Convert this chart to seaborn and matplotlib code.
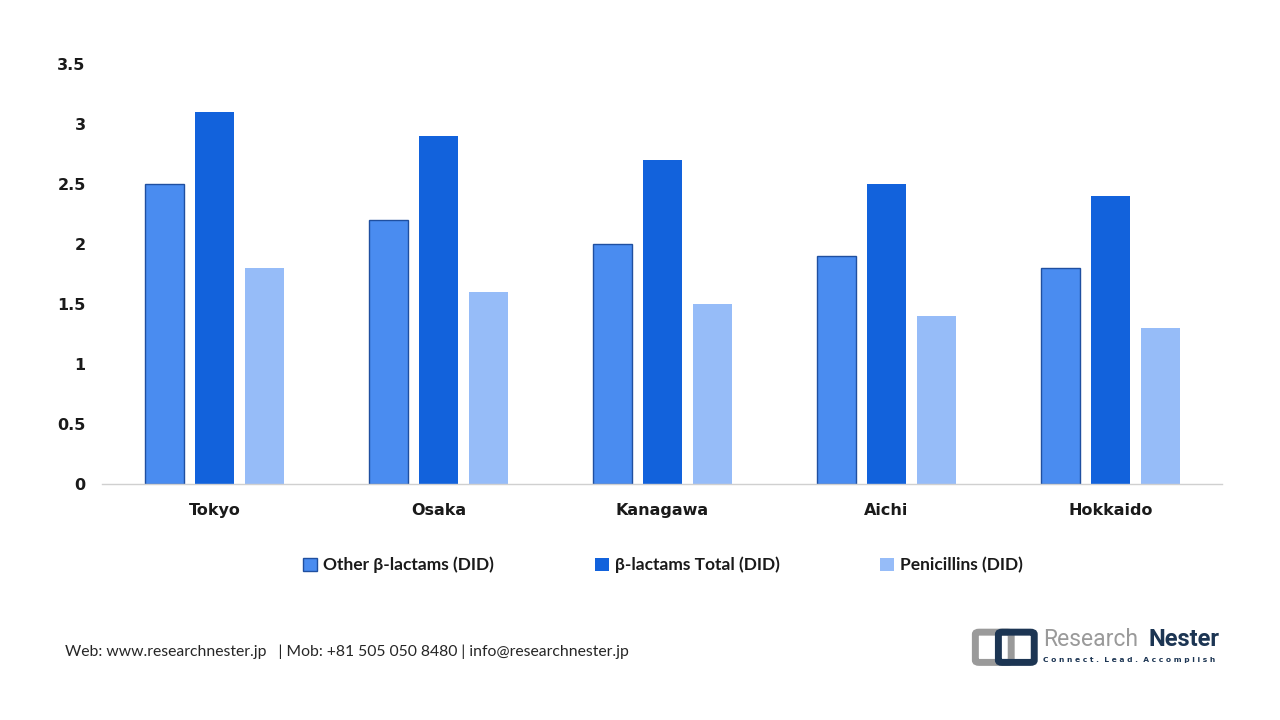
import pandas as pd
import seaborn as sns
import matplotlib.pyplot as plt
from matplotlib.patches import FancyBboxPatch

# data
regions = ['Tokyo', 'Osaka', 'Kanagawa', 'Aichi', 'Hokkaido']
other_bl = [2.5, 2.2, 2.0, 1.9, 1.8]
bl_total = [3.1, 2.9, 2.7, 2.5, 2.4]
penicillins = [1.8, 1.6, 1.5, 1.4, 1.3]
series = ['Other β-lactams (DID)', 'β-lactams Total (DID)', 'Penicillins (DID)']
yticks = [0, 0.5, 1, 1.5, 2, 2.5, 3, 3.5]
ytick_labels = ['0', '0.5', '1', '1.5', '2', '2.5', '3', '3.5']

colors = ['#4A8CF0', '#1262DC', '#96BCF8']

df = pd.DataFrame({
    'region': regions * 3,
    'value': other_bl + bl_total + penicillins,
    'series': [series[0]] * 5 + [series[1]] * 5 + [series[2]] * 5,
})

sns.set_theme(style='white')
plt.rcParams['font.family'] = ['DejaVu Sans']

fig = plt.figure(figsize=(12.8, 7.2), dpi=100)
ax = fig.add_axes([0.080, 0.328, 0.875, 0.583])

sns.barplot(data=df, x='region', y='value', hue='series', order=regions,
            hue_order=series, palette=colors, width=0.67, gap=0.215,
            saturation=1, linewidth=0, ax=ax, legend=True)

# only the first series has a dark outline
for bar in ax.containers[0]:
    bar.set_edgecolor('#1F4FA0')
    bar.set_linewidth(1.0)

ax.set_xlim(-0.5, 4.5)
ax.set_ylim(0, 3.5)
ax.set_yticks(yticks)
ax.set_yticklabels(ytick_labels)
ax.set_xlabel('')
ax.set_ylabel('')
for s in ['top', 'right', 'left']:
    ax.spines[s].set_visible(False)
ax.spines['bottom'].set_color('#D0D0D0')
ax.spines['bottom'].set_linewidth(1.0)
ax.tick_params(axis='both', length=0, labelsize=11.5, colors='#1A1A1A')
ax.tick_params(axis='y', pad=12)
ax.tick_params(axis='x', pad=14)
for lab in ax.get_xticklabels() + ax.get_yticklabels():
    lab.set_fontweight('bold')

handles, labels = ax.get_legend_handles_labels()
ax.get_legend().remove()
leg = fig.legend(handles, labels, loc='center', bbox_to_anchor=(0.518, 0.215),
                 ncol=3, frameon=False, handlelength=0.8, handleheight=0.8,
                 handletextpad=0.35, columnspacing=5.8,
                 prop={'family': 'Lato', 'weight': 'bold', 'size': 12.5})
leg.legend_handles[0].set_edgecolor('#1F4FA0')
leg.legend_handles[0].set_linewidth(1.0)
for t in leg.get_texts():
    t.set_color('#1A1A1A')

# footer
fig.text(0.051, 0.095, 'Web: www.researchnester.jp   | Mob: +81 505 050 8480 | info@researchnester.jp',
         family='Lato', fontsize=11.3, color='#262626', va='center')

# logo
fig.patches.append(FancyBboxPatch((0.765, 0.083), 0.022, 0.036,
                                  boxstyle='round,pad=0.003', transform=fig.transFigure,
                                  facecolor='none', edgecolor='#9A9A9A', linewidth=5))
fig.patches.append(FancyBboxPatch((0.783, 0.083), 0.022, 0.036,
                                  boxstyle='round,pad=0.003', transform=fig.transFigure,
                                  facecolor='none', edgecolor='#1C3553', linewidth=5))
fig.text(0.815, 0.112, 'Research', family='Roboto',
         fontsize=16.5, color='#9A9A9A', va='center', ha='left')
fig.text(0.953, 0.112, 'Nester', family='Roboto',
         fontsize=17, color='#1C3553', fontweight='bold', va='center', ha='right')
fig.text(0.815, 0.083, 'C o n n e c t .  L e a d .  A c c o m p l i s h', family='DejaVu Sans',
         fontsize=5.4, color='#1C3553', fontweight='bold', va='center', ha='left')

fig.savefig('out.png', dpi=100)
